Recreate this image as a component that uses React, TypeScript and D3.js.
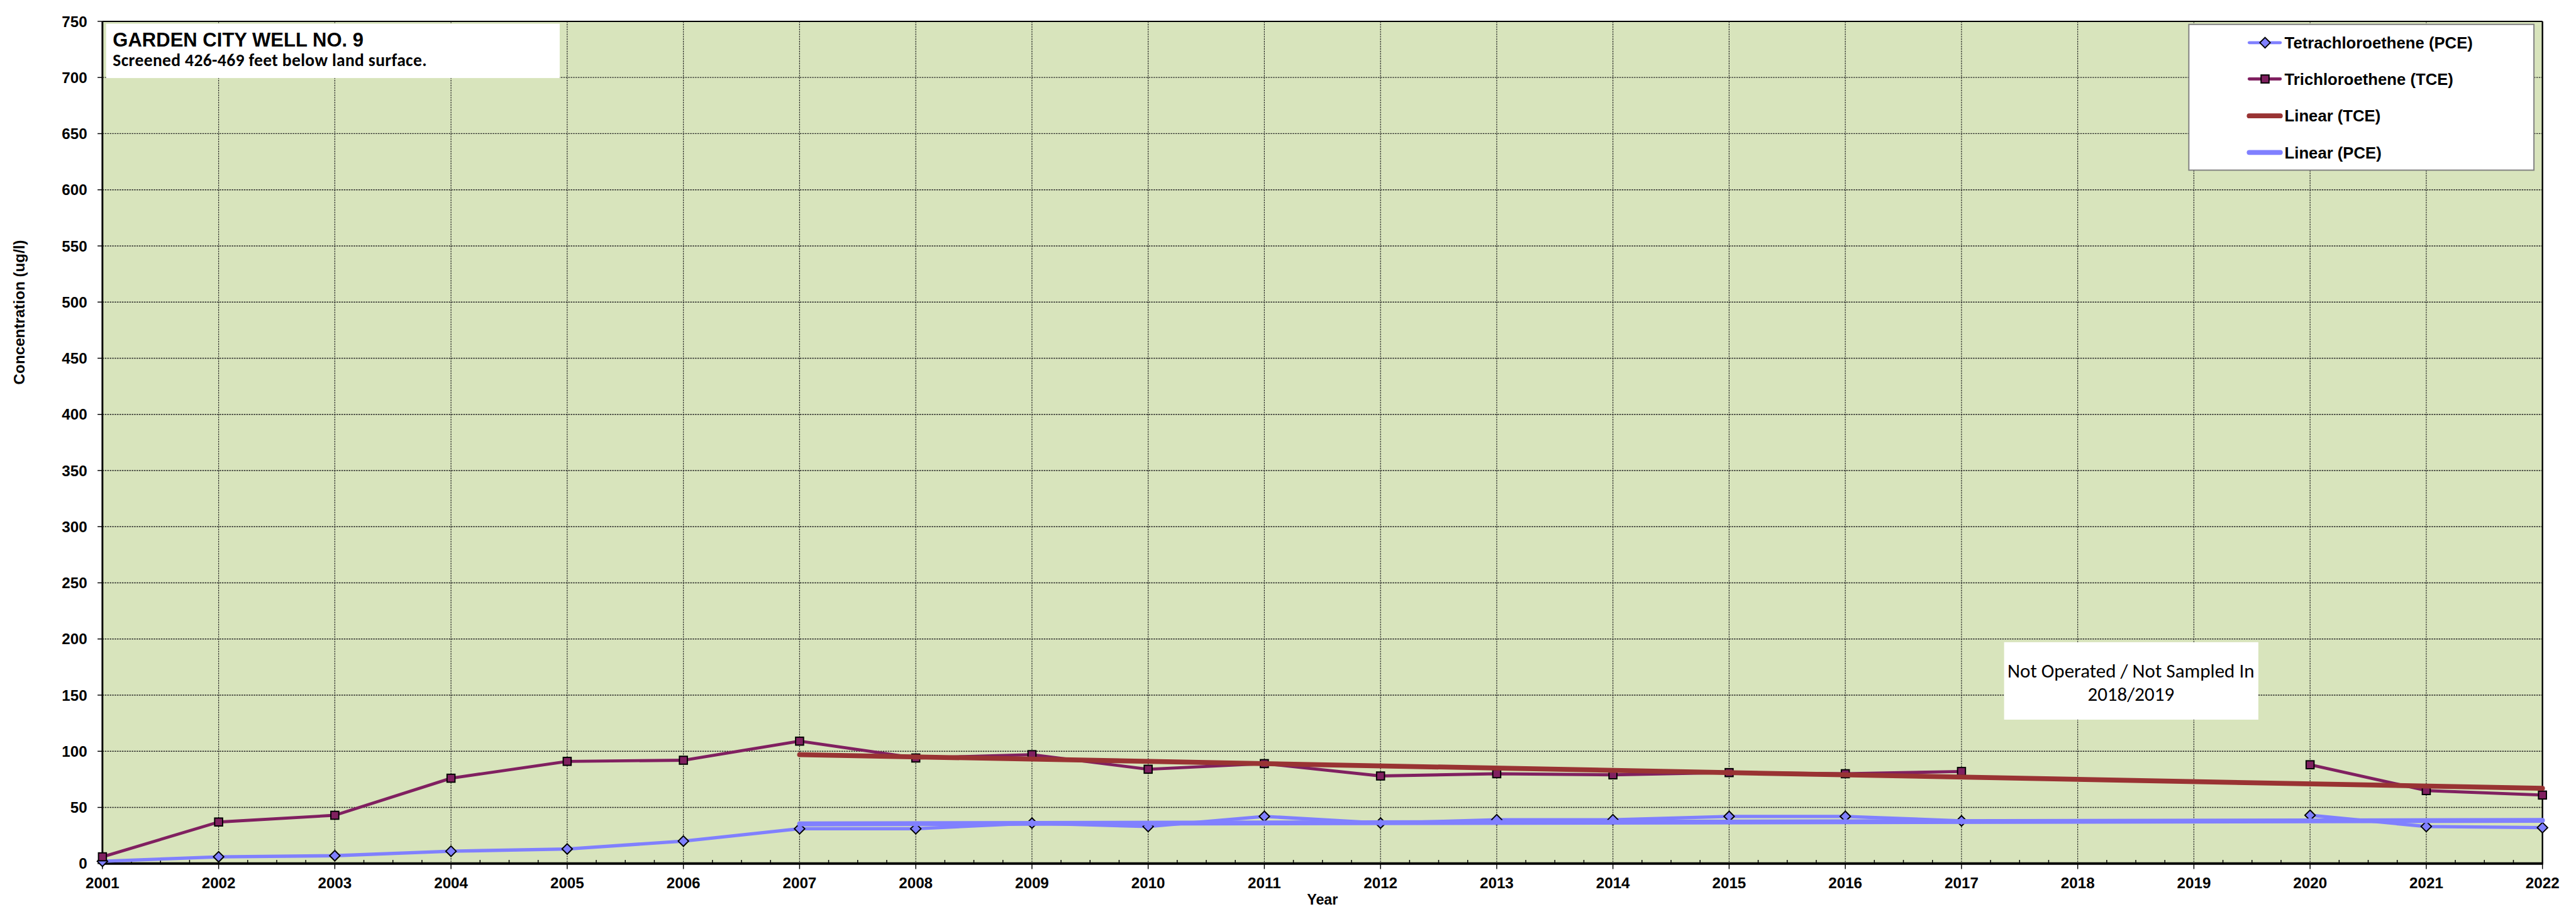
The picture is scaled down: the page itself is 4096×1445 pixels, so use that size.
import * as React from "react";
import * as d3 from "d3";

// values (ug/l)
const years = [2001, 2002, 2003, 2004, 2005, 2006, 2007, 2008, 2009, 2010, 2011, 2012, 2013, 2014, 2015, 2016, 2017, 2018, 2019, 2020, 2021, 2022];
const pce = [2, 6, 7, 11, 13, 20, 31, 31, 36, 33, 42, 36, 39, 39, 42, 42, 38, null, null, 43, 33, 32];
const tce = [6, 37, 43, 76, 91, 92, 109, 94, 97, 84, 89, 78, 80, 79, 81, 80, 82, null, null, 88, 65, 61];
// trend lines (start / end)
const trendYears = [2007, 2022];
const trendTce = [97, 67];
const trendPce = [35.3, 38.5];
const yTicks = [0, 50, 100, 150, 200, 250, 300, 350, 400, 450, 500, 550, 600, 650, 700, 750];

const legendItems = [
  { label: "Tetrachloroethene (PCE)", color: "#8080FF", width: 5, marker: "diamond" },
  { label: "Trichloroethene (TCE)", color: "#802060", width: 5, marker: "square" },
  { label: "Linear (TCE)", color: "#993333", width: 8, marker: null },
  { label: "Linear (PCE)", color: "#8080FF", width: 8, marker: null },
];

const W = 4225, H = 1491;
const K = 4096 / 4225;
const plot = { left: 168, right: 4170, top: 35, bottom: 1416 };
const arial = "'Liberation Sans', Arial, Helvetica, sans-serif";
const calibri = "Carlito, Calibri, Lato, sans-serif";

const Diamond = ({ cx, cy, r = 8.5 }) => (
  <path d={`M${cx},${cy - r}L${cx + r},${cy}L${cx},${cy + r}L${cx - r},${cy}Z`} fill="#8080FF" stroke="#000" strokeWidth={2} />
);
const Square = ({ cx, cy, s = 13 }) => (
  <rect x={cx - s / 2} y={cy - s / 2} width={s} height={s} fill="#802060" stroke="#000" strokeWidth={2} />
);

const App = () => {
  const x = d3.scaleLinear().domain([2001, 2022]).range([plot.left, plot.right]);
  const y = d3.scaleLinear().domain([0, 750]).range([plot.bottom, plot.top]);

  const line = d3
    .line<any>()
    .defined(d => d[1] != null)
    .x(d => x(d[0]))
    .y(d => y(d[1]));

  const pcePts = years.map((yr, i) => [yr, pce[i]]);
  const tcePts = years.map((yr, i) => [yr, tce[i]]);
  const trendT = trendYears.map((yr, i) => [yr, trendTce[i]]);
  const trendP = trendYears.map((yr, i) => [yr, trendPce[i]]);

  const quarters = d3.range(0, 21 * 4 + 1).map(i => 2001 + i / 4).filter(v => v % 1 !== 0);

  return (
    <svg width={4096} height={1445} style={{ position: "absolute", left: 0, top: 0, background: "#fff" }}>
      <g transform={`scale(${K})`}>
        <rect x={0} y={0} width={W} height={H} fill="#fff" />
        <rect x={plot.left} y={plot.top} width={plot.right - plot.left} height={plot.bottom - plot.top} fill="#D8E4BC" />

        {/* grid */}
        {years.slice(1, -1).map(yr => (
          <line key={"gx" + yr} x1={x(yr)} x2={x(yr)} y1={plot.top} y2={plot.bottom} stroke="#222" strokeWidth={1.2} strokeDasharray="2.5,1.5" />
        ))}
        {yTicks.slice(1, -1).map(v => (
          <line key={"gy" + v} x1={plot.left} x2={plot.right} y1={y(v)} y2={y(v)} stroke="#222" strokeWidth={1.4} strokeDasharray="2.5,1.5" />
        ))}

        {/* ticks */}
        {yTicks.map(v => (
          <line key={"ty" + v} x1={plot.left - 8} x2={plot.left} y1={y(v)} y2={y(v)} stroke="#000" strokeWidth={1.5} />
        ))}
        {years.map(yr => (
          <line key={"tx" + yr} x1={x(yr)} x2={x(yr)} y1={plot.bottom} y2={plot.bottom + 9} stroke="#000" strokeWidth={1.5} />
        ))}
        {quarters.map(q => (
          <line key={"tq" + q} x1={x(q)} x2={x(q)} y1={plot.bottom - 6} y2={plot.bottom} stroke="#000" strokeWidth={1.5} />
        ))}

        {/* frame */}
        <line x1={plot.left} x2={plot.right} y1={plot.top} y2={plot.top} stroke="#000" strokeWidth={2} />
        <line x1={plot.right} x2={plot.right} y1={plot.top} y2={plot.bottom} stroke="#000" strokeWidth={2.5} />
        <line x1={plot.left} x2={plot.left} y1={plot.top} y2={plot.bottom + 1} stroke="#000" strokeWidth={3} />
        <line x1={plot.left - 1} x2={plot.right + 1} y1={plot.bottom} y2={plot.bottom} stroke="#000" strokeWidth={4} />

        {/* series */}
        <path d={line(pcePts)} fill="none" stroke="#8080FF" strokeWidth={5.5} strokeLinejoin="round" />
        {pcePts.filter(d => d[1] != null).map(d => (
          <Diamond key={"pd" + d[0]} cx={x(d[0])} cy={y(d[1])} />
        ))}
        <path d={line(tcePts)} fill="none" stroke="#802060" strokeWidth={5} strokeLinejoin="round" />
        {tcePts.filter(d => d[1] != null).map(d => (
          <Square key={"ts" + d[0]} cx={x(d[0])} cy={y(d[1])} />
        ))}
        <path d={line(trendT)} fill="none" stroke="#993333" strokeWidth={8} strokeLinecap="round" />
        <path d={line(trendP)} fill="none" stroke="#8080FF" strokeWidth={8} strokeLinecap="round" />

        {/* axis labels */}
        {yTicks.map(v => (
          <text key={"ly" + v} x={143} y={y(v) + 9} textAnchor="end" fontFamily={arial} fontWeight="bold" fontSize={25}>
            {v}
          </text>
        ))}
        {years.map(yr => (
          <text key={"lx" + yr} x={x(yr)} y={1457} textAnchor="middle" fontFamily={arial} fontWeight="bold" fontSize={25}>
            {yr}
          </text>
        ))}
        <text x={(plot.left + plot.right) / 2} y={1483} textAnchor="middle" fontFamily={arial} fontWeight="bold" fontSize={24}>
          Year
        </text>
        <text transform="translate(40,512) rotate(-90)" textAnchor="middle" fontFamily={arial} fontWeight="bold" fontSize={25}>
          Concentration (ug/l)
        </text>

        {/* title box */}
        <rect x={174} y={39} width={744} height={89} fill="#fff" />
        <text x={185} y={76} fontFamily={arial} fontWeight="bold" fontSize={32}>
          GARDEN CITY WELL NO. 9
        </text>
        <text x={185} y={108} fontFamily={calibri} fontWeight="bold" fontSize={28.5} textLength={515} lengthAdjust="spacing">
          Screened 426-469 feet below land surface.
        </text>

        {/* legend */}
        <rect x={3590} y={40} width={566} height={239} fill="#fff" stroke="#808080" strokeWidth={2} />
        {legendItems.map((it, i) => {
          const cy = [70, 129.5, 190, 250][i];
          return (
            <g key={it.label}>
              <line x1={3689} x2={3740} y1={cy} y2={cy} stroke={it.color} strokeWidth={it.width} strokeLinecap="round" />
              {it.marker === "diamond" && <Diamond cx={3715} cy={cy} />}
              {it.marker === "square" && <Square cx={3715} cy={cy} />}
              <text x={3747} y={cy + 9.5} fontFamily={arial} fontWeight="bold" fontSize={26.5}>
                {it.label}
              </text>
            </g>
          );
        })}

        {/* note */}
        <rect x={3287} y={1053} width={417} height={127} fill="#fff" />
        <text x={3495} y={1111} textAnchor="middle" fontFamily={calibri} fontSize={32}>
          Not Operated / Not Sampled In
        </text>
        <text x={3495} y={1149} textAnchor="middle" fontFamily={calibri} fontSize={32}>
          2018/2019
        </text>
      </g>
    </svg>
  );
};

export default App;
